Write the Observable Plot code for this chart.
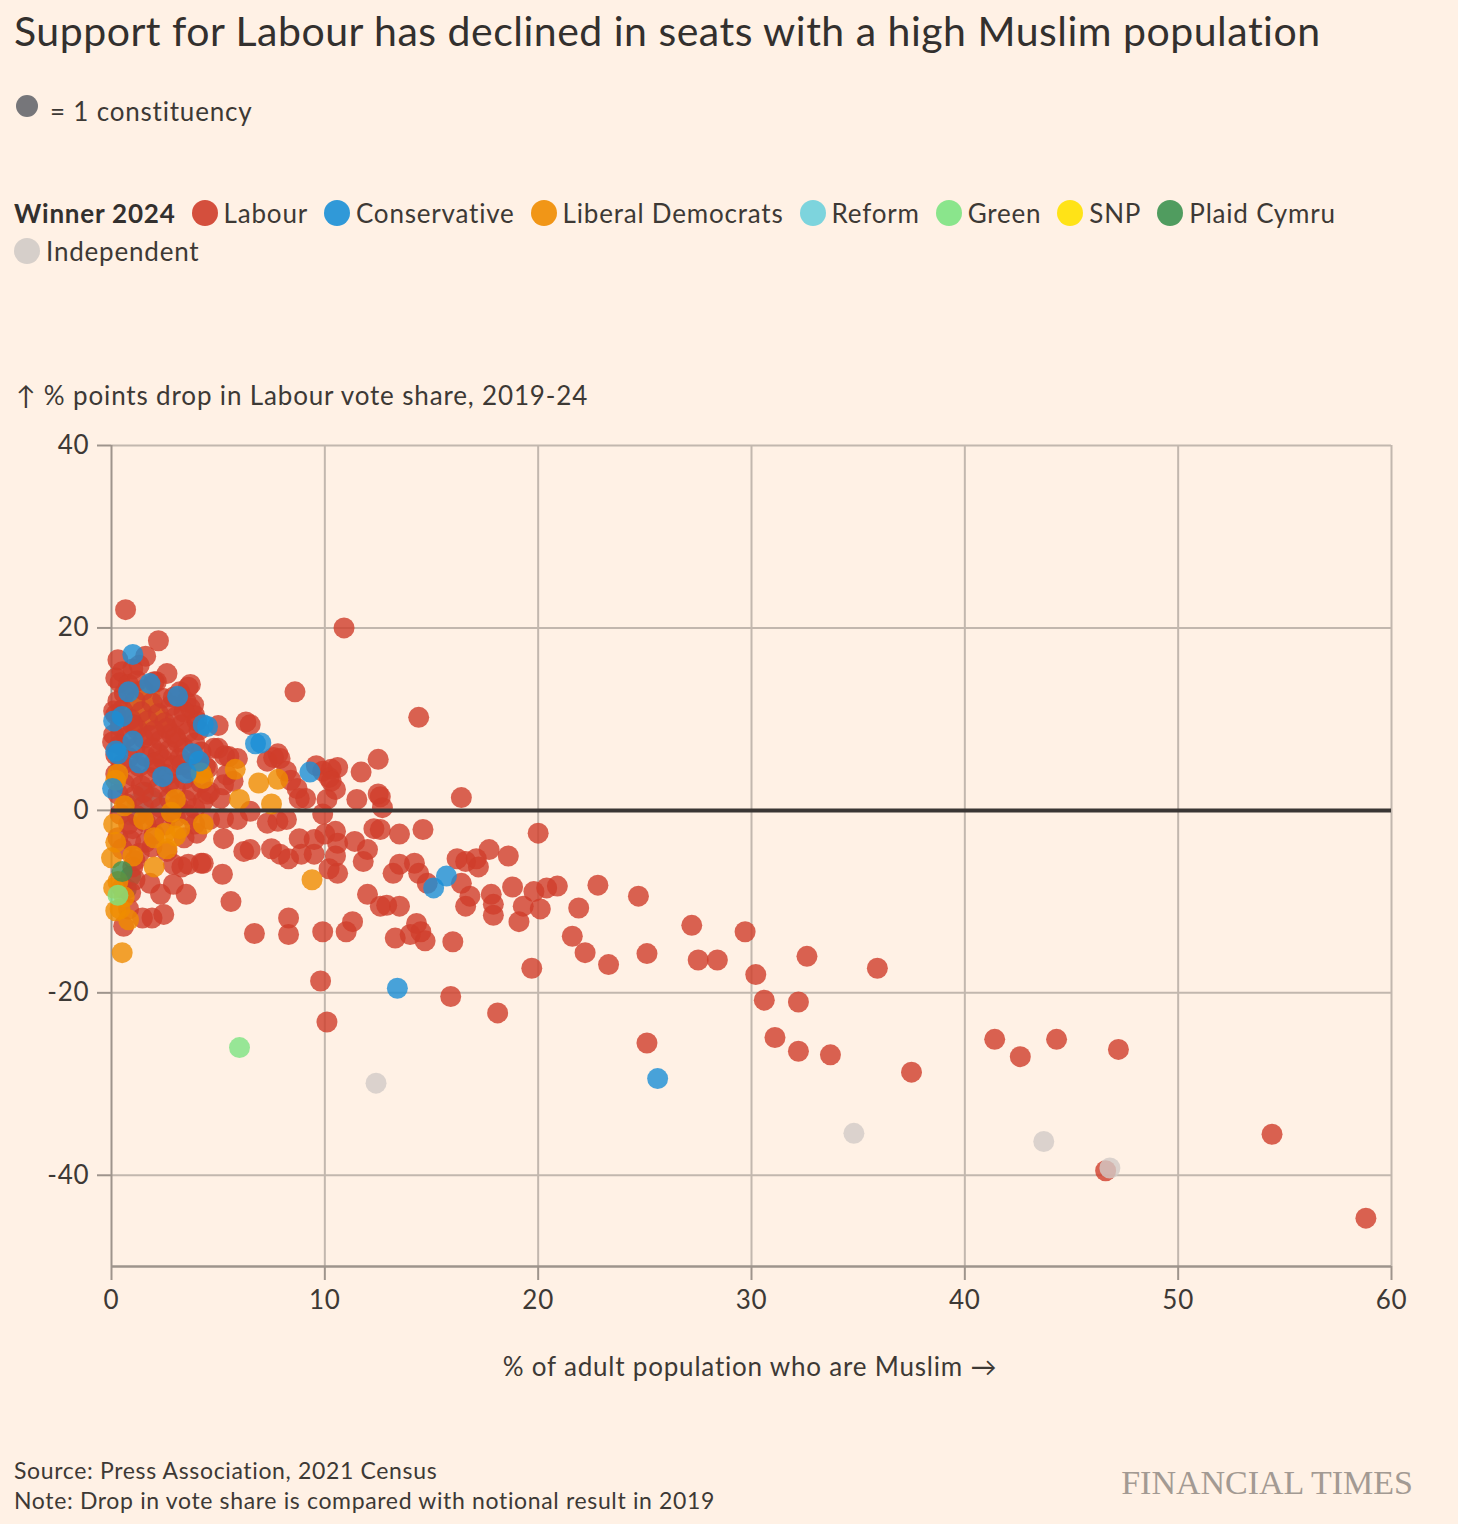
<!DOCTYPE html>
<html>
<head>
<meta charset="utf-8">
<script src="https://cdn.jsdelivr.net/npm/d3@7"></script>
<script src="https://cdn.jsdelivr.net/npm/@observablehq/plot@0.6"></script>
<style>
  html, body { margin: 0; padding: 0; background: #fff1e5; }
  body { width: 1458px; height: 1524px; position: relative; font-family: Lato, "Noto Sans", sans-serif; color: #3d3935; overflow: hidden; }
  .abs { position: absolute; white-space: nowrap; line-height: 1.2; }
  #title { left: 14px; top: 6px; font-size: 41px; letter-spacing: 0.5px; color: #33302e; }
  #unit { left: 16px; top: 96px; font-size: 26px; letter-spacing: 0.8px; display: flex; align-items: center; }
  #unit .dot { width: 22px; height: 22px; border-radius: 50%; background: #76767a; margin-right: 12px; margin-top: -12px; }
  #legend { left: 14px; top: 194px; width: 1370px; font-size: 26px; letter-spacing: 0.8px; line-height: 38px; white-space: normal; display: flex; flex-wrap: wrap; column-gap: 16px; }
  #legend .hdr { font-weight: 700; color: #33302e; }
  #legend .item { display: inline-flex; align-items: center; }
  #legend .sw { width: 26px; height: 26px; border-radius: 50%; margin-right: 6px; opacity: 0.9; }
  #ylabel { left: 16px; top: 380px; font-size: 26px; letter-spacing: 0.85px; }
  #chart { position: absolute; left: 0; top: 425px; }
  #xlabel { left: 0; width: 1500px; text-align: center; top: 1351px; font-size: 26px; letter-spacing: 0.8px; }
  #source { left: 14px; top: 1457px; font-size: 23px; letter-spacing: 0.65px; }
  #note { left: 14px; top: 1487px; font-size: 23px; letter-spacing: 0.65px; }
  #ft { right: 45px; top: 1466px; font-size: 34px; line-height: 1; font-family: "Liberation Serif", "DejaVu Serif", serif; color: #a39a93; }
</style>
</head>
<body>
<div id="title" class="abs">Support for Labour has declined in seats with a high Muslim population</div>
<div id="unit" class="abs"><span class="dot"></span><span>= 1 constituency</span></div>
<div id="legend" class="abs"></div>
<div id="ylabel" class="abs">↑ % points drop in Labour vote share, 2019-24</div>
<div id="chart"></div>
<div id="xlabel" class="abs">% of adult population who are Muslim →</div>
<div id="source" class="abs">Source: Press Association, 2021 Census</div>
<div id="note" class="abs">Note: Drop in vote share is compared with notional result in 2019</div>
<div id="ft" class="abs">FINANCIAL TIMES</div>
<script>
// ---- categories ----
const parties = ["Labour", "Conservative", "Liberal Democrats", "Reform", "Green", "SNP", "Plaid Cymru", "Independent"];
const partyColors = ["#cf3d2a", "#1a8fd6", "#ef8c00", "#6fd0db", "#7de382", "#ffe100", "#3d9250", "#d2cbc7"];
const legendTitle = "Winner 2024";

// ---- tick values ----
const xTicks = [0, 10, 20, 30, 40, 50, 60];
const yTicks = [-40, -20, 0, 20, 40];

// ---- series values: [% adult population Muslim, change in Labour vote share] ----
const snpPoints = [[1.0,11.5],[1.4,12.3],[0.9,10.4],[1.6,10.0],[1.2,9.3],[2.0,11.0],[1.8,12.6],[1.1,13.0],[2.3,9.9]];
const reformPoints = [[0.9,-0.5],[1.2,0.8],[1.6,2.0],[2.0,1.0],[1.4,-0.2]];
const plaidHiddenPoints = [[0.7,-8.6],[0.9,-7.2]];
const labourPoints = [
  // dense cluster, low Muslim share
  [0.3,16.5],[1.6,16.9],[0.5,15.2],[1.0,15.5],[0.2,14.5],[0.4,14.0],[0.8,13.8],[1.2,14.2],[2.0,14.1],[3.6,13.5],
  [3.2,13.0],[0.6,12.8],[1.5,13.2],[2.4,12.3],[0.3,12.0],[1.1,12.0],[1.9,11.8],[2.8,11.5],[3.5,11.9],[3.7,11.2],
  [0.5,11.0],[1.4,10.8],[2.2,10.6],[3.0,10.2],[0.2,10.5],[0.9,10.0],[1.7,9.8],[2.5,9.6],[3.3,9.4],[4.0,9.8],
  [4.1,8.8],[0.4,9.2],[1.2,8.9],[2.0,8.7],[2.8,8.4],[3.6,8.6],[0.1,8.3],[0.7,8.0],[1.5,7.9],[2.3,7.7],
  [3.1,7.5],[3.9,7.4],[0.4,7.2],[1.1,6.8],[1.9,6.9],[2.7,6.6],[3.4,6.8],[4.2,6.4],[0.2,6.1],[0.8,5.8],
  [1.6,5.9],[2.4,5.6],[3.2,5.7],[4.0,5.5],[0.5,5.0],[1.3,4.8],[2.1,4.6],[2.9,4.9],[3.7,4.5],[4.4,4.8],
  [0.2,4.0],[1.0,3.8],[1.8,3.6],[2.6,3.9],[3.4,3.4],[4.2,3.0],[0.6,2.9],[1.4,2.7],[2.2,2.5],[3.0,2.4],
  [3.8,2.2],[4.6,2.0],[0.3,1.8],[1.1,1.6],[1.9,1.4],[2.7,1.3],[3.5,1.1],[4.3,1.0],[0.7,0.7],[1.5,0.5],
  [2.3,0.3],[3.1,0.6],[3.9,0.2],[0.4,-0.4],[1.2,-0.6],[2.0,-0.8],[2.8,-0.3],[3.6,-0.5],[0.8,-1.5],[1.6,-1.3],
  [4.0,-2.5],[0.3,-3.0],[1.9,-4.0],[0.9,-3.3],[0.1,10.9],[0.05,7.5],[2.1,14.1],[3.7,13.8],[3.85,11.6],[5.0,6.8],
  [5.3,6.0],[5.25,2.8],[2.6,15.0],[1.3,15.9],[2.9,12.4],[3.9,10.4],
  [1.8,8.2],[2.6,9.0],[3.4,10.8],[2.2,6.2],[1.0,9.4],[3.0,8.0],[2.0,5.2],[2.7,3.0],[1.5,2.0],[3.3,5.0],
  // lower left
  [0.57,-12.7],[1.45,-11.8],[1.9,-11.8],[2.45,-11.4],[1.8,-8.0],[2.3,-9.2],[2.9,-5.9],[3.5,-9.2],[2.9,-8.1],[4.2,-5.8],
  [3.6,-5.9],[3.3,-6.2],[2.6,-4.5],[1.3,-4.7],[0.5,-4.2],[1.0,-6.2],[0.5,-8.5],[0.9,-9.0],[1.1,-7.6],[0.8,-10.8],
  [1.1,-5.5],[1.6,-3.5],[2.0,-2.6],[1.0,-2.0],[2.5,-1.6],[3.4,-3.0],[3.9,-1.5],[4.6,-1.0],[3.0,-0.8],[4.3,-5.8],
  // middle
  [0.66,22.0],[10.9,20.0],[2.2,18.6],[8.6,13.0],[14.4,10.2],[6.3,9.7],[6.5,9.4],[5.0,9.3],[16.4,1.4],[20.0,-2.5],
  [12.5,5.6],[11.7,4.2],[10.6,4.7],[10.2,3.6],[9.6,4.9],[9.9,4.3],[10.3,4.5],[10.5,2.3],[10.3,3.2],[12.6,1.5],
  [12.7,0.3],[12.5,1.8],[11.5,1.2],[10.1,1.2],[9.1,1.3],[8.8,1.3],[8.7,2.4],[8.4,3.3],[7.8,6.2],[7.6,5.8],
  [7.3,5.4],[8.2,4.3],[4.8,6.8],[5.5,5.9],[5.9,5.7],[5.4,3.9],[5.7,3.2],[4.5,4.6],[4.5,1.8],[5.1,1.3],
  [7.9,5.7],[9.9,-0.4],[5.25,-0.9],[5.9,-1.0],[6.5,-0.1],[7.3,-1.4],[7.8,-1.2],[8.2,-1.0],[5.25,-3.1],[6.2,-4.5],
  [6.5,-4.3],[7.5,-4.2],[7.9,-4.8],[8.3,-5.3],[8.8,-3.1],[8.9,-4.8],[9.5,-3.2],[9.5,-4.8],[10.0,-2.6],[10.5,-2.3],
  [10.6,-3.6],[10.5,-5.0],[10.2,-6.4],[10.6,-6.9],[11.4,-3.4],[12.0,-4.3],[12.3,-2.0],[12.6,-2.1],[13.5,-2.6],[14.6,-2.1],
  [11.8,-5.6],[13.2,-6.9],[13.5,-5.9],[14.2,-5.8],[14.4,-6.9],[14.8,-8.0],[16.2,-5.3],[16.6,-5.6],[17.1,-5.3],[17.2,-6.2],
  [17.7,-4.3],[16.4,-8.0],[16.6,-10.5],[16.8,-9.4],[17.8,-9.2],[17.9,-10.3],[17.9,-11.5],[18.6,-5.0],[18.8,-8.4],[19.3,-10.5],
  [19.1,-12.2],[19.8,-8.9],[20.1,-10.8],[20.4,-8.5],[20.9,-8.3],[19.7,-17.3],[18.1,-22.2],[12.0,-9.2],[12.6,-10.5],[12.9,-10.4],
  [13.5,-10.5],[11.3,-12.2],[11.0,-13.3],[9.9,-13.3],[8.3,-11.8],[8.3,-13.6],[6.7,-13.5],[5.6,-10.0],[5.2,-7.0],[13.3,-14.0],
  [14.3,-12.4],[14.5,-13.3],[14.7,-14.3],[14.0,-13.6],[16.0,-14.4],[15.9,-20.4],[9.8,-18.7],[10.1,-23.2],
  // high Muslim share
  [21.9,-10.7],[21.6,-13.8],[22.2,-15.6],[22.8,-8.2],[23.3,-16.9],[24.7,-9.4],[25.1,-15.7],[25.1,-25.5],[27.2,-12.6],[27.5,-16.4],
  [28.4,-16.4],[29.7,-13.3],[30.2,-18.0],[30.6,-20.8],[31.1,-24.9],[32.2,-21.0],[32.2,-26.4],[32.6,-16.0],[33.7,-26.8],[35.9,-17.3],
  [37.5,-28.7],[41.4,-25.1],[42.6,-27.0],[44.3,-25.1],[46.6,-39.5],[47.2,-26.2],[54.4,-35.5],[58.8,-44.7]
];
const libDemPoints = [
  [0.3,4.0],[4.2,4.1],[6.0,1.2],[7.5,0.7],[6.9,3.0],[7.8,3.4],[4.3,-1.5],[9.4,-7.6],[0.5,-15.6],[0.1,-1.5],
  [0.2,-3.5],[0.0,-5.2],[0.4,-10.8],[0.2,-11.0],[0.6,-9.5],[2.0,-3.0],[2.5,-2.5],[3.0,-2.8],[2.6,-4.2],[2.0,-6.2],
  [3.0,1.2],[3.2,-2.0],[1.0,-5.0],[0.3,-7.8],[4.3,3.5],[5.8,4.5],[0.6,0.5],[0.2,3.3],[2.8,-0.2],[1.5,-1.0],
  [0.8,-12.0],[0.1,-8.5]
];
const conservativePoints = [
  [1.0,17.1],[0.8,13.0],[1.8,13.9],[3.1,12.5],[4.3,9.4],[4.5,9.2],[6.75,7.3],[7.0,7.4],[9.3,4.2],[1.0,7.6],
  [0.3,6.2],[1.3,5.2],[2.4,3.7],[3.8,6.2],[3.5,4.1],[0.05,2.4],[0.1,9.8],[0.5,10.3],[15.1,-8.5],[15.7,-7.2],
  [13.4,-19.5],[25.6,-29.4],[4.1,5.4],[0.2,6.5]
];
const greenPoints = [[0.3,-9.3],[6.0,-26.0]];
const plaidPoints = [[0.5,-6.7]];
const independentPoints = [[12.4,-29.9],[34.8,-35.4],[43.7,-36.3],[46.8,-39.2]];

// ---- build table (draw order) ----
const groups = [
  ["SNP", snpPoints], ["Reform", reformPoints], ["Plaid Cymru", plaidHiddenPoints], ["Labour", labourPoints],
  ["Liberal Democrats", libDemPoints], ["Conservative", conservativePoints],
  ["Green", greenPoints], ["Plaid Cymru", plaidPoints], ["Independent", independentPoints]
];
const rows = groups.flatMap(([party, pts]) => pts.map(([x, y]) => ({party, x, y})));

// ---- legend ----
const legend = document.getElementById("legend");
const hdr = document.createElement("span");
hdr.className = "hdr"; hdr.textContent = legendTitle;
legend.appendChild(hdr);
parties.forEach((p, i) => {
  const it = document.createElement("span"); it.className = "item";
  const sw = document.createElement("span"); sw.className = "sw"; sw.style.background = partyColors[i];
  const t = document.createElement("span"); t.textContent = p;
  it.appendChild(sw); it.appendChild(t); legend.appendChild(it);
});

// ---- chart ----
const gridColor = "#c2b7ae";
const axisColor = "#9e948c";
const chart = Plot.plot({
  width: 1458,
  height: 900,
  marginTop: 20,
  marginLeft: 111,
  marginRight: 67,
  marginBottom: 59,
  style: {background: "transparent", fontFamily: "Lato, 'Noto Sans', sans-serif", fontSize: "26px", color: "#3d3935", letterSpacing: "0.8px"},
  x: {domain: [0, 60], label: null},
  y: {domain: [-50, 40], label: null},
  color: {domain: parties, range: partyColors},
  marks: [
    Plot.gridX(xTicks.slice(1), {stroke: gridColor, strokeOpacity: 1, strokeWidth: 2}),
    Plot.gridY(yTicks, {stroke: gridColor, strokeOpacity: 1, strokeWidth: 2}),
    Plot.ruleX([0], {stroke: axisColor, strokeWidth: 2}),
    Plot.ruleY([-50], {stroke: axisColor, strokeWidth: 2.5}),
    Plot.axisX(xTicks, {tickSize: 14, tickPadding: 10, stroke: axisColor, strokeWidth: 2, label: null, tickFormat: d => String(d)}),
    Plot.axisY(yTicks, {tickSize: 14, tickPadding: 8, stroke: axisColor, strokeWidth: 2, label: null, tickFormat: d => String(d)}),
    Plot.dot(rows, {x: "x", y: "y", r: 10.5, fill: "party", fillOpacity: 0.8, stroke: "none"}),
    Plot.ruleY([0], {stroke: "#3a3634", strokeWidth: 4})
  ]
});
document.getElementById("chart").appendChild(chart);
</script>
</body>
</html>
